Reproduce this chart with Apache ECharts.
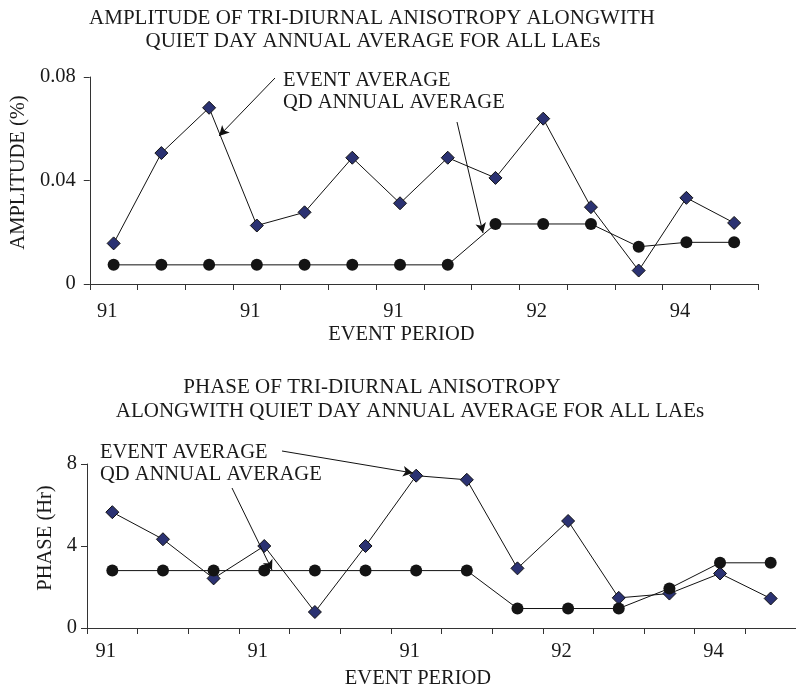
<!DOCTYPE html>
<html>
<head>
<meta charset="utf-8">
<script src="https://cdn.jsdelivr.net/npm/echarts@6/dist/echarts.min.js"></script>
<style>
  html, body { margin: 0; padding: 0; background: #fff; }
  #chart { width: 796px; height: 691px; }
</style>
</head>
<body>
<div id="chart"></div>
<script>
// event periods (only every third one is labelled in the figure)
var periods = ['91', '', '', '91', '', '', '91', '', '', '92', '', '', '94', ''];

// amplitude (%)
var ampEvent = [0.0157, 0.0506, 0.0681, 0.0226, 0.0277, 0.0488, 0.0312, 0.0488, 0.0410, 0.0639, 0.0297, 0.0052, 0.0333, 0.0236];
var ampQD = [0.0074, 0.0074, 0.0074, 0.0074, 0.0074, 0.0074, 0.0074, 0.0074, 0.0232, 0.0232, 0.0232, 0.0144, 0.0161, 0.0161];

// phase (Hr)
var phaseEvent = [5.65, 4.33, 2.42, 4.0, 0.78, 4.0, 7.43, 7.23, 2.91, 5.22, 1.47, 1.68, 2.66, 1.44];
var phaseQD = [2.8, 2.8, 2.8, 2.8, 2.8, 2.8, 2.8, 2.8, 0.95, 0.95, 0.95, 1.93, 3.18, 3.18];

var FONT = 'Liberation Serif';
var INK = '#1a1a1a';

var chart = echarts.init(document.getElementById('chart'), null, { renderer: 'canvas' });

function xAxisFor(gridIdx, labelMargin, namePadRight) {
  return {
    gridIndex: gridIdx,
    type: 'category',
    data: periods,
    boundaryGap: true,
    name: 'EVENT PERIOD',
    nameLocation: 'middle',
    nameGap: 40,
    nameTextStyle: { fontFamily: FONT, fontSize: 20.5, color: INK, padding: [0, namePadRight, 0, 0] },
    axisLine: { lineStyle: { color: '#333', width: 1 } },
    axisTick: { show: true, interval: 0, length: 6, lineStyle: { color: '#333' } },
    axisLabel: { interval: 2, margin: labelMargin, fontFamily: FONT, fontSize: 20.5, color: INK, padding: [0, 13, 0, 0] },
    splitLine: { show: false }
  };
}

function yAxisFor(gridIdx, max, interval, name, nameGap, labelMargin) {
  return {
    gridIndex: gridIdx,
    type: 'value',
    min: 0,
    max: max,
    interval: interval,
    name: name,
    nameLocation: 'middle',
    nameGap: nameGap,
    nameTextStyle: { fontFamily: FONT, fontSize: 20.5, color: INK, padding: [0, 0, 0, 16] },
    axisLine: { show: true, lineStyle: { color: '#333', width: 1 } },
    axisTick: { show: true, length: 6, lineStyle: { color: '#333' } },
    axisLabel: { margin: labelMargin, fontFamily: FONT, fontSize: 20.5, color: INK },
    splitLine: { show: false }
  };
}

function arrows(list) {
  return {
    silent: true,
    symbol: ['none', 'arrow'],
    symbolSize: [8, 10],
    label: { show: false },
    lineStyle: { color: '#111', width: 1, type: 'solid' },
    emphasis: { disabled: true },
    animation: false,
    data: list
  };
}

var eventStyle = {
  type: 'line',
  symbol: 'diamond',
  symbolSize: 13,
  lineStyle: { color: '#111', width: 1 },
  itemStyle: { color: '#2b3272', borderColor: '#111', borderWidth: 1 }
};
var qdStyle = {
  type: 'line',
  symbol: 'circle',
  symbolSize: 12,
  lineStyle: { color: '#111', width: 1 },
  itemStyle: { color: '#141414', borderColor: '#141414', borderWidth: 0 }
};

function text(x, y, str, align, size) {
  return {
    type: 'text', x: x, y: y, silent: true,
    style: { text: str, fill: INK, font: size + 'px "' + FONT + '"', align: align, verticalAlign: 'middle' }
  };
}

var option = {
  backgroundColor: '#fff',
  animation: false,
  grid: [
    { left: 87, right: 38, top: 77, height: 207 },
    { left: 87, right: -8, top: 464, height: 164 }
  ],
  xAxis: [xAxisFor(0, 17, 45), xAxisFor(1, 13, 47)],
  yAxis: [
    yAxisFor(0, 0.08, 0.04, 'AMPLITUDE (%)', 52, 14),
    yAxisFor(1, 8, 4, 'PHASE (Hr)', 23, 10)
  ],
  series: [
    Object.assign({}, eventStyle, {
      name: 'EVENT AVERAGE', xAxisIndex: 0, yAxisIndex: 0, data: ampEvent,
      markLine: arrows([
        [{ x: 275, y: 78 }, { x: 219, y: 136 }],
        [{ x: 457, y: 122 }, { x: 483, y: 233 }]
      ])
    }),
    Object.assign({}, qdStyle, { name: 'QD ANNUAL AVERAGE', xAxisIndex: 0, yAxisIndex: 0, data: ampQD }),
    Object.assign({}, eventStyle, {
      name: 'EVENT AVERAGE', xAxisIndex: 1, yAxisIndex: 1, data: phaseEvent,
      markLine: arrows([
        [{ x: 282, y: 451 }, { x: 413, y: 473 }],
        [{ x: 232, y: 488 }, { x: 272, y: 570 }]
      ])
    }),
    Object.assign({}, qdStyle, { name: 'QD ANNUAL AVERAGE', xAxisIndex: 1, yAxisIndex: 1, data: phaseQD })
  ],
  graphic: [
    text(372, 18, 'AMPLITUDE OF TRI-DIURNAL ANISOTROPY ALONGWITH', 'center', 21),
    text(373, 41, 'QUIET DAY ANNUAL AVERAGE FOR ALL LAEs', 'center', 21),
    text(283, 81, 'EVENT AVERAGE', 'left', 20.5),
    text(283, 103, 'QD ANNUAL AVERAGE', 'left', 20.5),
    text(372, 387, 'PHASE OF TRI-DIURNAL ANISOTROPY', 'center', 21),
    text(410, 411, 'ALONGWITH QUIET DAY ANNUAL AVERAGE FOR ALL LAEs', 'center', 21),
    text(100, 453, 'EVENT AVERAGE', 'left', 20.5),
    text(100, 475, 'QD ANNUAL AVERAGE', 'left', 20.5)
  ]
};

chart.setOption(option);
</script>
</body>
</html>
